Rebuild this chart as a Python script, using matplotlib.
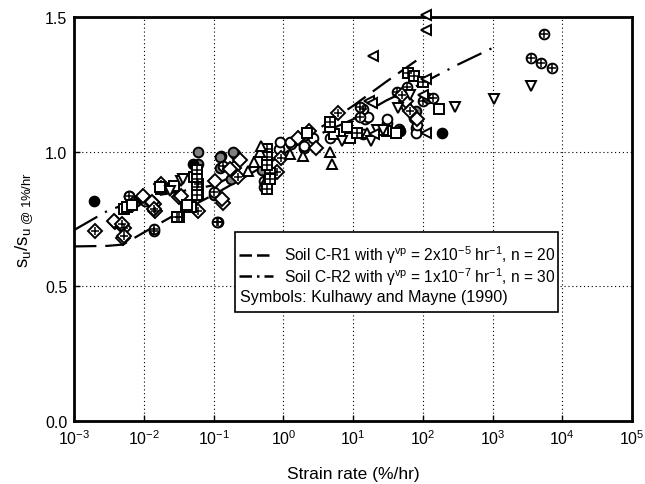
import matplotlib
matplotlib.use("Agg")
import matplotlib.pyplot as plt
from matplotlib.lines import Line2D
from matplotlib.patches import Rectangle

plt.rcParams['font.family'] = ['Liberation Sans', 'DejaVu Sans']
plt.rcParams['mathtext.fontset'] = 'custom'
plt.rcParams['mathtext.rm'] = 'Liberation Sans'
plt.rcParams['mathtext.it'] = 'Liberation Sans'

# model curves
cr1_rate = [1e-3, 3e-3, 5e-3, 1e-2, 3e-2, 1e-1, 3e-1, 1, 3, 10, 30, 100]
cr1_ratio = [0.648, 0.650, 0.655, 0.70, 0.77, 0.84, 0.91, 0.99, 1.08, 1.17, 1.26, 1.355]
cr2_rate = [1e-3, 3e-3, 1e-2, 3e-2, 1e-1, 3e-1, 1, 3, 10, 30, 100, 300, 1000]
cr2_ratio = [0.709, 0.78, 0.83, 0.85, 0.875, 0.935, 1.0, 1.06, 1.12, 1.19, 1.255, 1.32, 1.385]

# Kulhawy and Mayne (1990) data, grouped by symbol
circ_x = [0.87, 1.3, 2.0, 15, 14, 31, 80, 80, 0.52, 0.52, 2.7, 0.9, 1.26, 16.6, 31, 2.0, 4.7, 58, 83]
circ_y = [1.01, 1.027, 1.015, 1.12, 1.064, 1.107, 1.089, 1.07, 0.89, 0.87, 1.05, 1.035, 1.035, 1.13, 1.12, 1.02, 1.05, 1.17, 1.10]
hcirc_x = [0.0062, 0.06, 0.06, 0.1, 0.126, 0.2, 0.5, 0.56, 0.6, 74, 80, 0.123, 0.123, 0.19, 0.175, 45]
hcirc_y = [0.836, 0.953, 1.0, 0.84, 0.984, 0.99, 0.93, 0.88, 0.90, 1.126, 1.15, 0.98, 0.94, 1.0, 0.9, 1.085]
fcirc_x = [0.0019, 0.05, 47, 186, 0.0078]
fcirc_y = [0.817, 0.953, 1.077, 1.07, 0.817]
xcirc_x = [0.0102, 0.0138, 0.115, 0.135, 14, 100, 120, 138, 3550, 5400, 5000, 7100,
           0.0062, 0.0141, 0.112, 0.1, 12.6, 12.6, 59, 43]
xcirc_y = [0.817, 0.706, 0.737, 0.947, 1.157, 1.188, 1.2, 1.2, 1.348, 1.437, 1.33, 1.311,
           0.836, 0.713, 0.74, 0.85, 1.166, 1.13, 1.24, 1.22]
diam_x = [0.0038, 0.005, 0.0069, 0.0098, 0.0138, 0.032, 0.105, 0.135, 0.195, 58, 2.9,
          0.0037, 0.0132, 0.034, 0.24, 0.17, 0.132, 1.6, 83]
diam_y = [0.737, 0.679, 0.805, 0.836, 0.805, 0.83, 0.89, 0.81, 0.94, 1.188, 1.015,
          0.743, 0.813, 0.836, 0.97, 0.936, 0.824, 1.05, 1.12]
xdiam_x = [0.002, 0.0052, 0.0145, 0.06, 0.22, 0.91, 2.35, 6.0, 50, 0.0049, 0.0052, 0.0141, 0.0178, 0.81, 66]
xdiam_y = [0.706, 0.718, 0.778, 0.78, 0.904, 0.977, 1.077, 1.145, 1.212, 0.73, 0.687, 0.787, 0.88, 0.925, 1.15]
sq_x = [0.0052, 0.0178, 0.04, 0.047, 0.052, 0.06, 5.4, 9.1, 31, 41, 170, 4.7,
        0.0058, 0.0068, 0.027, 0.017, 0.042, 0.44, 2.2, 8.1, 27]
sq_y = [0.786, 0.86, 0.793, 0.793, 0.904, 0.84, 1.064, 1.05, 1.077, 1.07, 1.157, 1.09,
        0.795, 0.8, 0.873, 0.87, 0.8, 0.96, 1.07, 1.09, 1.08]
xsq_x = [0.032, 0.65, 0.65, 62, 74, 0.06, 0.058, 0.058, 0.058, 0.058, 0.03,
         0.59, 0.59, 0.59, 0.59, 4.7, 100, 11.5]
xsq_y = [0.756, 0.92, 0.90, 1.293, 1.28, 0.88, 0.93, 0.90, 0.87, 0.84, 0.757,
         1.01, 0.98, 0.95, 0.86, 1.11, 1.26, 1.07]
tup_x = [0.46, 0.31, 4.7, 5.0, 1.9, 0.47, 1.26, 16, 0.38]
tup_y = [1.0, 0.928, 1.0, 0.953, 0.984, 1.02, 0.99, 1.07, 0.96]
tdn_x = [0.0234, 0.034, 6.9, 18, 290, 1050, 3550, 44, 0.036, 22, 27, 66]
tdn_y = [0.854, 0.89, 1.04, 1.04, 1.165, 1.194, 1.243, 1.163, 0.9, 1.08, 1.08, 1.21]
tlf_x = [17, 19.5, 112, 112, 112, 112, 20, 18.6, 100]
tlf_y = [1.188, 1.354, 1.509, 1.453, 1.268, 1.07, 1.064, 1.18, 1.21]

fig = plt.figure(figsize=(6.45, 4.85), dpi=100)
ax = fig.add_axes([0.115, 0.13, 0.865, 0.833])

ax.plot(cr1_rate, cr1_ratio, color='black', lw=1.6, ls=(0, (10, 4)), zorder=3)
ax.plot(cr2_rate, cr2_ratio, color='black', lw=1.6, ls=(0, (12, 4, 1, 4)), zorder=3)

mk = dict(ls='none', ms=7, mew=1.4, mec='black', clip_on=False, zorder=4)
cross = dict(marker='+', ms=5.5, mew=1.1, mec='black', ls='none', clip_on=False, zorder=4)
ax.plot(circ_x, circ_y, marker='o', mfc='white', **mk)
ax.plot(hcirc_x, hcirc_y, marker='o', mfc='0.5', **mk)
ax.plot(fcirc_x, fcirc_y, marker='o', mfc='black', **mk)
ax.plot(xcirc_x, xcirc_y, marker='o', mfc='white', **mk)
ax.plot(xcirc_x, xcirc_y, **cross)
ax.plot(diam_x, diam_y, marker='D', mfc='white', **mk)
ax.plot(xdiam_x, xdiam_y, marker='D', mfc='white', **mk)
ax.plot(xdiam_x, xdiam_y, **cross)
ax.plot(sq_x, sq_y, marker='s', mfc='white', **mk)
ax.plot(xsq_x, xsq_y, marker='s', mfc='white', **mk)
ax.plot(xsq_x, xsq_y, **cross)
ax.plot(tup_x, tup_y, marker='^', mfc='white', **mk)
ax.plot(tdn_x, tdn_y, marker='v', mfc='white', **mk)
ax.plot(tlf_x, tlf_y, marker='<', mfc='white', **mk)

ax.set_xscale('log')
ax.set_xlim(1e-3, 1e5)
ax.set_ylim(0, 1.5)
ax.set_xticks([1e-3, 1e-2, 1e-1, 1, 10, 100, 1e3, 1e4, 1e5])
ax.set_xticklabels([r'$\mathregular{10^{%d}}$' % e for e in range(-3, 6)])
ax.set_yticks([0.0, 0.5, 1.0, 1.5])
ax.set_yticklabels(['0.0', '0.5', '1.0', '1.5'])
ax.minorticks_off()
ax.tick_params(direction='in', length=4, width=1, labelsize=11.5, pad=5)
ax.grid(True, color='black', ls=(0, (1, 2.5)), lw=0.8)
for s in ax.spines.values():
    s.set_linewidth(2)

ax.set_xlabel('Strain rate (%/hr)', fontsize=12.5, labelpad=14)
ax.set_ylabel(r'$\mathregular{s_u/s_{u\ @\ 1\%/hr}}$', fontsize=13.5, labelpad=7)

# legend box
ax.add_patch(Rectangle((0.289, 0.27), 0.578, 0.198, transform=ax.transAxes,
                       fc='white', ec='black', lw=1.2, zorder=6))
handles = [Line2D([], [], color='black', lw=1.8, ls=(0, (5, 2))),
           Line2D([], [], color='black', lw=1.8, ls=(0, (5, 2, 1, 2)))]
labels = [r'Soil C-R1 with $\mathregular{\gamma^{vp}}$ = 2x10$\mathregular{^{-5}}$ hr$\mathregular{^{-1}}$, n = 20',
          r'Soil C-R2 with $\mathregular{\gamma^{vp}}$ = 1x10$\mathregular{^{-7}}$ hr$\mathregular{^{-1}}$, n = 30']
leg = ax.legend(handles, labels, loc='upper left', bbox_to_anchor=(0.29, 0.447),
                frameon=False, fontsize=11.2, handlelength=2.2, handletextpad=0.7,
                labelspacing=0.0, borderaxespad=0, borderpad=0.2)
leg.set_zorder(7)
ax.text(0.297, 0.309, 'Symbols: Kulhawy and Mayne (1990)', transform=ax.transAxes,
        fontsize=11.6, va='center', ha='left', zorder=7)

fig.savefig('out.png', dpi=100)
